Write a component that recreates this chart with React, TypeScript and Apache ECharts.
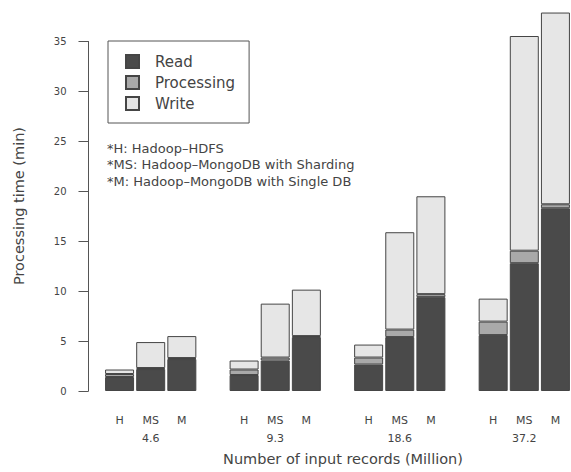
import React, { useEffect, useRef } from "react";
import * as echarts from "echarts";

// Input sizes (million records) and systems
const sizes = ["4.6", "9.3", "18.6", "37.2"];
const systems = ["H", "MS", "M"];

// Times (min) per size, per system [H, MS, M]
const readTimes = [
  [1.4, 2.2, 3.2],
  [1.6, 3.05, 5.4],
  [2.65, 5.4, 9.4],
  [5.6, 12.8, 18.3],
];
const processingTimes = [
  [0.3, 0.1, 0.1],
  [0.55, 0.3, 0.1],
  [0.7, 0.75, 0.3],
  [1.35, 1.25, 0.4],
];
const writeTimes = [
  [0.45, 2.6, 2.2],
  [0.9, 5.4, 4.65],
  [1.3, 9.75, 9.8],
  [2.3, 21.5, 19.2],
];

const yTicks = [0, 5, 10, 15, 20, 25, 30, 35];
const notes = [
  "*H: Hadoop\u2013HDFS",
  "*MS: Hadoop\u2013MongoDB with Sharding",
  "*M: Hadoop\u2013MongoDB with Single DB",
];

const FONT = "DejaVu Sans";

function buildSlots() {
  const labels: string[] = [];
  const idx: Array<[number, number] | null> = [];
  sizes.forEach((s, g) => {
    systems.forEach((sys, b) => {
      labels.push(b === 1 ? `${sys}\n${s}` : `${sys}\n`);
      idx.push([g, b]);
    });
    if (g < sizes.length - 1) {
      labels.push("");
      idx.push(null);
    }
  });
  return { labels, idx };
}

export default function App() {
  const ref = useRef<HTMLDivElement>(null);
  useEffect(() => {
    if (!ref.current) return;
    const chart = echarts.init(ref.current, null, { renderer: "svg" });
    const { labels, idx } = buildSlots();
    const pick = (arr: number[][]) =>
      idx.map((p) => (p ? arr[p[0]][p[1]] : null));
    const common = {
      type: "bar",
      stack: "total",
      barWidth: 29,
      clip: false,
      itemStyle: { borderColor: "#454545", borderWidth: 1 },
    };
    chart.setOption({
      animation: false,
      backgroundColor: "#ffffff",
      textStyle: { fontFamily: FONT },
      grid: { left: 104, right: 0, top: 41.5, bottom: 81 },
      legend: {
        orient: "vertical",
        left: 108,
        top: 41,
        padding: [13, 14, 12, 17],
        itemGap: 6,
        itemWidth: 13,
        itemHeight: 13,
        icon: "rect",
        borderColor: "#555",
        borderWidth: 1,
        textStyle: {
          fontFamily: FONT,
          fontSize: 15,
          lineHeight: 15,
          color: "#444",
          padding: [0, 0, 0, 11],
        },
        data: ["Read", "Processing", "Write"],
      },
      xAxis: {
        type: "category",
        data: labels,
        axisLine: { show: false },
        axisTick: { show: false },
        axisLabel: {
          interval: 0,
          margin: 20,
          fontFamily: FONT,
          fontSize: 11,
          lineHeight: 18,
          color: "#444",
        },
      },
      yAxis: {
        type: "value",
        min: 0,
        max: 35,
        interval: 5,
        offset: 15.5,
        splitLine: { show: false },
        axisLine: { show: true, lineStyle: { color: "#555", width: 1 } },
        axisTick: {
          show: true,
          length: 10,
          lineStyle: { color: "#555", width: 1 },
        },
        axisLabel: {
          margin: 22,
          fontFamily: FONT,
          fontSize: 10,
          color: "#444",
          formatter: (v: number) => (yTicks.includes(v) ? String(v) : ""),
        },
      },
      series: [
        {
          ...common,
          name: "Read",
          data: pick(readTimes),
          itemStyle: { ...common.itemStyle, color: "#4a4a4a" },
        },
        {
          ...common,
          name: "Processing",
          data: pick(processingTimes),
          itemStyle: { ...common.itemStyle, color: "#a9a9a9" },
        },
        {
          ...common,
          name: "Write",
          data: pick(writeTimes),
          itemStyle: { ...common.itemStyle, color: "#e6e6e6" },
        },
      ],
      graphic: [
        {
          type: "text",
          left: 107,
          top: 140,
          style: {
            text: notes.join("\n"),
            fontFamily: FONT,
            fontSize: 13,
            lineHeight: 16.5,
            fill: "#444",
          },
        },
        {
          type: "text",
          x: 19,
          y: 206,
          rotation: Math.PI / 2,
          style: {
            text: "Processing time (min)",
            fontFamily: FONT,
            fontSize: 14.5,
            fill: "#444",
            align: "center",
            verticalAlign: "middle",
          },
        },
        {
          type: "text",
          x: 343,
          y: 459,
          style: {
            text: "Number of input records (Million)",
            fontFamily: FONT,
            fontSize: 14.5,
            fill: "#444",
            align: "center",
            verticalAlign: "middle",
          },
        },
      ],
    });
    return () => chart.dispose();
  }, []);
  return (
    <div
      ref={ref}
      style={{ position: "fixed", left: 0, top: 0, width: 571, height: 472 }}
    />
  );
}
